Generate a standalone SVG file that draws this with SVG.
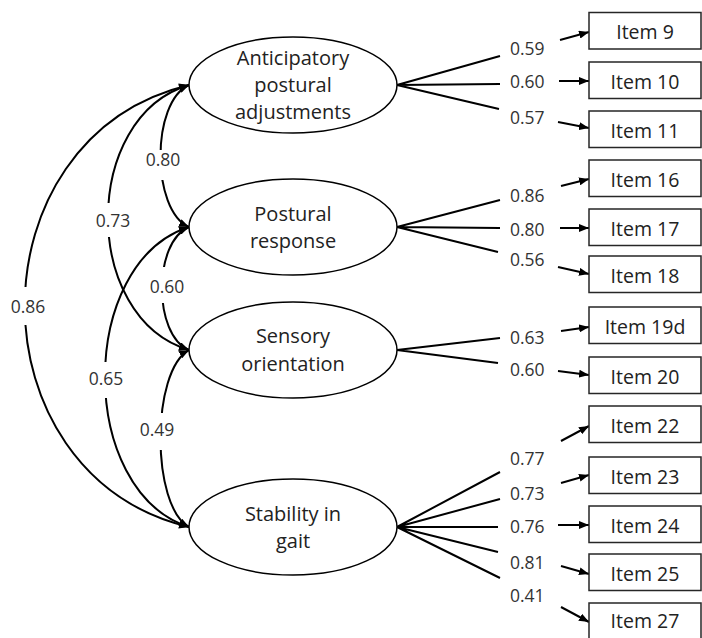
<svg xmlns="http://www.w3.org/2000/svg" width="702" height="638" viewBox="0 0 702 638">
<style>
.bg{fill:#fff}
.lat{fill:#fff;stroke:#000;stroke-width:1.5}
.box{fill:#fff;stroke:#262626;stroke-width:1.5}
.ln{fill:none;stroke:#000;stroke-width:2}
.arr{fill:none;stroke:#000;stroke-width:2;marker-end:url(#ah)}
.cor{fill:none;stroke:#000;stroke-width:2;marker-start:url(#ah);marker-end:url(#ah)}
.gap{fill:#fff;stroke:none}
.t{font-family:"Open Sans","Noto Sans","DejaVu Sans",sans-serif;fill:#222;text-anchor:middle}
.lt{font-size:20px}
.it{font-size:19.5px}
.lb{font-family:"Open Sans","Noto Sans","DejaVu Sans",sans-serif;fill:#333;font-size:17.5px}
.lbm{text-anchor:middle}
</style>
<defs>
<marker id="ah" viewBox="0 0 10 8" refX="10" refY="4" markerWidth="10" markerHeight="8" markerUnits="userSpaceOnUse" orient="auto-start-reverse">
<path d="M0,0 L10,4 L0,8 Z" fill="#000"/>
</marker>
</defs>
<rect class="bg" x="0" y="0" width="702" height="638"/>

<g id="connectors">
<g id="correlations">
<path class="cor" d="M189,85 C151,102 151,210 189,227"/>
<path class="cor" d="M189,85 C81,117 81,318 189,350"/>
<path class="cor" d="M189,85 C-30,138 -30,474 189,527"/>
<path class="cor" d="M189,227 C153,242 153,335 189,350"/>
<path class="cor" d="M189,227 C77,263 77,491 189,527"/>
<path class="cor" d="M189,350 C151,371 151,506 189,527"/>
<rect class="gap" x="145" y="150" width="36" height="30"/>
<rect class="gap" x="95" y="203" width="36" height="34"/>
<rect class="gap" x="9" y="287" width="38" height="38"/>
<rect class="gap" x="149" y="267" width="37" height="36"/>
<rect class="gap" x="88" y="362" width="37" height="36"/>
<rect class="gap" x="139" y="413" width="37" height="37"/>
<text class="lb lbm" x="163" y="166">0.80</text>
<text class="lb lbm" x="113" y="227">0.73</text>
<text class="lb lbm" x="28" y="313">0.86</text>
<text class="lb lbm" x="167" y="293">0.60</text>
<text class="lb lbm" x="106" y="385">0.65</text>
<text class="lb lbm" x="157" y="436">0.49</text>
</g>
<g id="loadings">
<path class="ln" d="M397,85 L500,56 M397,85 L500,84 M397,85 L499,109"/>
<path class="ln" d="M397,227 L500,200 M397,227 L500,228 M397,227 L498,252"/>
<path class="ln" d="M397,350 L500,338 M397,350 L498,363"/>
<path class="ln" d="M397,527 L500,472 M397,527 L500,499 M397,527 L498,527 M397,527 L498,552 M397,527 L500,578"/>
<text class="lb" x="510" y="55">0.59</text>
<text class="lb" x="510" y="88">0.60</text>
<text class="lb" x="510" y="124">0.57</text>
<text class="lb" x="510" y="202">0.86</text>
<text class="lb" x="510" y="236">0.80</text>
<text class="lb" x="510" y="266">0.56</text>
<text class="lb" x="510" y="344">0.63</text>
<text class="lb" x="510" y="376">0.60</text>
<text class="lb" x="510" y="465">0.77</text>
<text class="lb" x="510" y="500">0.73</text>
<text class="lb" x="510" y="533">0.76</text>
<text class="lb" x="510" y="569">0.81</text>
<text class="lb" x="510" y="602">0.41</text>
<path class="arr" d="M560,40 L589,32"/>
<path class="arr" d="M559,81 L589,81"/>
<path class="arr" d="M558,122 L589,128"/>
<path class="arr" d="M561,186 L589,179"/>
<path class="arr" d="M560,228 L589,228"/>
<path class="arr" d="M558,267 L589,274"/>
<path class="arr" d="M561,331 L589,327"/>
<path class="arr" d="M558,371 L589,375"/>
<path class="arr" d="M561,441 L589,426"/>
<path class="arr" d="M561,483 L589,475"/>
<path class="arr" d="M558,525 L589,525"/>
<path class="arr" d="M561,566 L589,574"/>
<path class="arr" d="M561,607 L589,622"/>
</g>
</g>

<g id="apa">
<ellipse class="lat" cx="293" cy="85" rx="104" ry="48"/>
<text class="t lt" x="293" y="65">Anticipatory</text>
<text class="t lt" x="293" y="92">postural</text>
<text class="t lt" x="293" y="119">adjustments</text>
</g>
<g id="pr">
<ellipse class="lat" cx="293" cy="227" rx="104" ry="48"/>
<text class="t lt" x="293" y="221">Postural</text>
<text class="t lt" x="293" y="248">response</text>
</g>
<g id="so">
<ellipse class="lat" cx="293" cy="350" rx="104" ry="48"/>
<text class="t lt" x="293" y="343">Sensory</text>
<text class="t lt" x="293" y="371">orientation</text>
</g>
<g id="sg">
<ellipse class="lat" cx="293" cy="527" rx="104" ry="48"/>
<text class="t lt" x="293" y="521">Stability in</text>
<text class="t lt" x="293" y="548">gait</text>
</g>

<g id="item9"><rect class="box" x="589" y="12.5" width="112" height="36.5"/><text class="t it" x="645" y="39">Item 9</text></g>
<g id="item10"><rect class="box" x="589" y="62" width="112" height="36.5"/><text class="t it" x="645" y="88.5">Item 10</text></g>
<g id="item11"><rect class="box" x="589" y="111" width="112" height="36.5"/><text class="t it" x="645" y="137.5">Item 11</text></g>
<g id="item16"><rect class="box" x="589" y="160" width="112" height="36.5"/><text class="t it" x="645" y="186.5">Item 16</text></g>
<g id="item17"><rect class="box" x="589" y="209" width="112" height="36.5"/><text class="t it" x="645" y="235.5">Item 17</text></g>
<g id="item18"><rect class="box" x="589" y="256" width="112" height="36.5"/><text class="t it" x="645" y="282.5">Item 18</text></g>
<g id="item19d"><rect class="box" x="589" y="307" width="112" height="36.5"/><text class="t it" x="645" y="333.5">Item 19d</text></g>
<g id="item20"><rect class="box" x="589" y="357" width="112" height="36.5"/><text class="t it" x="645" y="383.5">Item 20</text></g>
<g id="item22"><rect class="box" x="589" y="406" width="112" height="36.5"/><text class="t it" x="645" y="432.5">Item 22</text></g>
<g id="item23"><rect class="box" x="589" y="457" width="112" height="36.5"/><text class="t it" x="645" y="483.5">Item 23</text></g>
<g id="item24"><rect class="box" x="589" y="506" width="112" height="36.5"/><text class="t it" x="645" y="532.5">Item 24</text></g>
<g id="item25"><rect class="box" x="589" y="554" width="112" height="36.5"/><text class="t it" x="645" y="580.5">Item 25</text></g>
<g id="item27"><rect class="box" x="589" y="603" width="112" height="40"/><text class="t it" x="645" y="628">Item 27</text></g>
</svg>
